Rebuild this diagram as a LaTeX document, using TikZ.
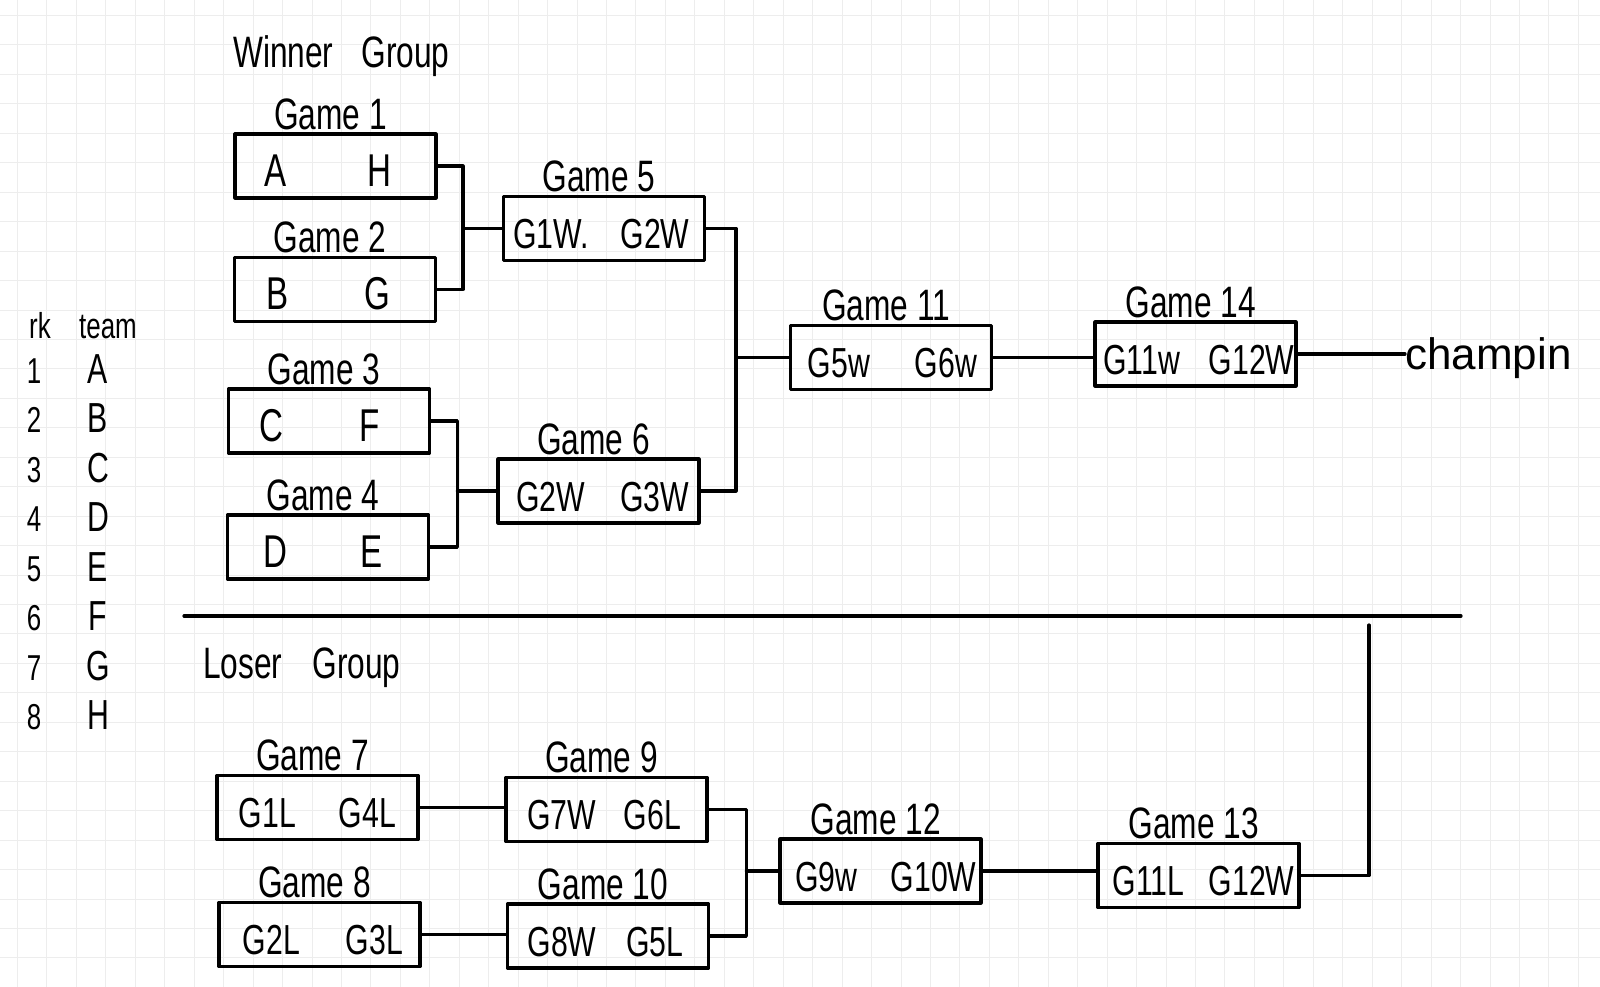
\documentclass[tikz,border=0pt]{standalone}
\usepackage{fontspec}
\setmainfont{Liberation Sans}
\newfontfamily\narrowf{Liberation Sans}[FakeStretch=0.72]
\usetikzlibrary{calc}
\tikzset{
  gridline/.style={draw=black!7, line width=1pt},
  wire/.style={line width=3.2pt, line join=round, line cap=round},
  gbox/.style={draw, line width=3.2pt, line join=round, minimum width=201pt, minimum height=64pt, inner sep=0pt},
  entry/.style={anchor=base, inner sep=0pt, font=\narrowf\fontsize{42}{42}\selectfont},
  letter/.style={anchor=base, inner sep=0pt, font=\narrowf\fontsize{46}{46}\selectfont},
  gtitle/.style={anchor=base, inner sep=0pt, font=\narrowf\fontsize{44}{44}\selectfont},
  grp/.style={anchor=base west, inner sep=0pt, font=\narrowf\fontsize{44}{44}\selectfont},
  champf/.style={anchor=base west, inner sep=0pt, font=\fontsize{44}{44}\selectfont},
  tabhead/.style={anchor=base, inner sep=0pt, font=\narrowf\fontsize{36}{36}\selectfont},
  tabnum/.style={anchor=base, inner sep=0pt, font=\narrowf\fontsize{36}{36}\selectfont},
  tabletter/.style={anchor=base, inner sep=0pt, font=\narrowf\fontsize{42}{42}\selectfont},
}
% name, cx, cy, title, left, right, left offset, right offset, entry style
\newcommand{\gamenode}[9]{%
  \node[gbox] (#1) at (#2,#3) {};
  \node[gtitle] (#1t) at ($(#1.north)+(-5,-3)$) {#4};
  \node[#9] (#1l) at ($(#1.center)+(#7,20)$) {#5};
  \node[#9] (#1r) at ($(#1.center)+(#8,20)$) {#6};
}
\begin{document}
\begin{tikzpicture}[x=1pt, y=-1pt]
\useasboundingbox (0,0) rectangle (1600,987);
\fill[white] (0,0) rectangle (1600,987);
% notebook grid
\foreach \i in {0,...,54} {\draw[gridline] ({17.5+29.45*\i},0) -- ({17.5+29.45*\i},987);}
\foreach \i in {0,...,33} {\draw[gridline] (0,{15.5+29.45*\i}) -- (1600,{15.5+29.45*\i});}

% titles
\node[grp] (wg) at (233,68) {Winner\hspace{28pt}Group};
\node[grp] (lg) at (203,678) {Loser\hspace{30pt}Group};

% ranking table
\node[tabhead] (rk) at (40,338) {rk};
\node[tabhead] (team) at (108,338) {team};
\foreach \n/\t [count=\i] in {1/A,2/B,3/C,4/D,5/E,6/F,7/G,8/H} {
  \node[tabnum] (n\i) at (34,{383+49.5*(\i-1)}) {\n};
  \node[tabletter] (t\i) at (98,{383+49.5*(\i-1)}) {\t};
}

% winner group
\gamenode{g1}{335.5}{166}{Game 1}{A}{H}{-60}{44}{letter}
\gamenode{g2}{335}{289.5}{Game 2}{B}{G}{-57}{42}{letter}
\gamenode{g3}{329}{421}{Game 3}{C}{F}{-58}{41}{letter}
\gamenode{g4}{328}{547}{Game 4}{D}{E}{-53}{44}{letter}
\gamenode{g5}{604}{228.5}{Game 5}{G1W.}{G2W}{-53}{51}{entry}
\gamenode{g6}{598.5}{491}{Game 6}{G2W}{G3W}{-48}{56}{entry}
\gamenode{g11}{891}{357.5}{Game 11}{G5w}{G6w}{-52}{55}{entry}
\gamenode{g14}{1195.5}{354}{Game 14}{G11w}{G12W}{-54}{56}{entry}
\node[champf] (champ) at (1405,369) {champin};

% loser group
\gamenode{g7}{317.5}{807.5}{Game 7}{G1L}{G4L}{-50}{50}{entry}
\gamenode{g8}{319.5}{934.5}{Game 8}{G2L}{G3L}{-48}{55}{entry}
\gamenode{g9}{606.5}{809.5}{Game 9}{G7W}{G6L}{-45}{46}{entry}
\gamenode{g10}{608}{936}{Game 10}{G8W}{G5L}{-46}{47}{entry}
\gamenode{g12}{880.5}{871}{Game 12}{G9w}{G10W}{-54}{53}{entry}
\gamenode{g13}{1198.5}{875.5}{Game 13}{G11L}{G12W}{-50}{53}{entry}

% separator
\coordinate (sepL) at (184,616);
\coordinate (sepR) at (1461,616);
\draw[wire] (sepL) -- (sepR);

% winner connectors
\coordinate (j12) at ($(g5.west)+(-39,0)$);
\draw[wire] (g1.east) -| (j12) |- (g2.east);
\draw[wire] (j12) -- (g5.west);
\coordinate (j34) at ($(g6.west)+(-39,0)$);
\draw[wire] (g3.east) -| (j34) |- (g4.east);
\draw[wire] (j34) -- (g6.west);
\coordinate (j56) at ($(g11.west)+(-53,0)$);
\draw[wire] (g5.east) -| (j56) |- (g6.east);
\draw[wire] (j56) -- (g11.west);
\draw[wire] (g11.east) -- (g11.east -| g14.west);
\draw[wire] (g14.east) -- (g14.east -| champ.west);

% loser connectors
\draw[wire] (g7.east) -- (g7.east -| g9.west);
\draw[wire] (g8.east) -- (g8.east -| g10.west);
\coordinate (j910) at ($(g12.west)+(-32,0)$);
\draw[wire] (g9.east) -| (j910) |- (g10.east);
\draw[wire] (j910) -- (g12.west);
\draw[wire] (g12.east) -- (g12.east -| g13.west);
\coordinate (up) at (1369,625);
\draw[wire] (g13.east) -| (up);
\end{tikzpicture}
\end{document}
